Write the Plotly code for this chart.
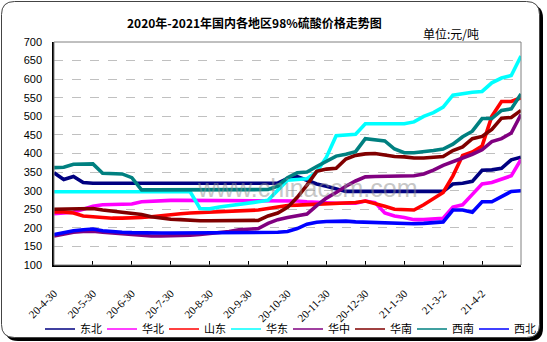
import plotly.graph_objects as go

# ---------------- data ----------------
idx = list(range(49))
tick_pos = [0, 4, 8, 12, 16, 20, 24, 28, 32, 36, 40, 44]
tick_labels = ["20-4-30", "20-5-30", "20-6-30", "20-7-30", "20-8-30", "20-9-30",
               "20-10-30", "20-11-30", "20-12-30", "21-1-30", "21-3-2", "21-4-2"]

dongbei = [348, 330, 338, 322, 320, 320, 320, 320, 320, 320, 320, 320, 320, 320, 320, 320,
           320, 320, 320, 320, 320, 320, 320, 320, 333, 338, 328, 318, 312, 305, 298, 298,
           298, 298, 298, 298, 298, 298, 298, 298, 298, 318, 320, 325, 355, 356, 360, 383, 390]
huabei = [238, 240, 242, 250, 258, 262, 262, 263, 264, 270, 272, 273, 274, 274, 274, 274,
          274, 274, 274, 274, 274, 274, 274, 274, 274, 272, 270, 268, 268, 266, 266, 266,
          272, 268, 240, 232, 228, 222, 222, 223, 226, 256, 262, 290, 318, 322, 330, 340, 384]
shandong = [243, 243, 240, 232, 230, 227, 226, 226, 226, 228, 230, 233, 237, 238, 240, 241,
            242, 243, 244, 245, 246, 248, 252, 256, 260, 261, 262, 262, 264, 265, 265, 268,
            272, 266, 258, 250, 248, 248, 262, 278, 295, 340, 395, 404, 420, 500, 540, 540, 550]
huadong = [297, 297, 297, 297, 297, 297, 297, 297, 297, 297, 297, 297, 297, 297, 297, 252,
           251, 256, 259, 263, 267, 270, 274, 300, 328, 330, 332, 350, 390, 448, 450, 452,
           480, 480, 480, 480, 480, 485, 500, 510, 525, 557, 562, 565, 567, 590, 603, 610, 662]
huazhong = [178, 184, 188, 190, 191, 188, 186, 184, 182, 179, 178, 178, 178, 178, 180, 182,
            184, 186, 190, 195, 197, 198, 212, 222, 228, 232, 237, 260, 280, 295, 312, 326,
            337, 338, 338, 338, 339, 340, 345, 355, 368, 377, 388, 398, 410, 432, 440, 455, 505]
huanan = [250, 250, 252, 252, 252, 248, 245, 243, 240, 236, 230, 226, 223, 222, 220, 219,
          219, 219, 219, 219, 219, 220, 232, 240, 255, 282, 315, 352, 358, 360, 385, 395,
          399, 400, 396, 392, 391, 388, 388, 390, 392, 408, 418, 440, 446, 465, 495, 497, 516]
xinan = [362, 363, 371, 372, 372, 347, 347, 345, 335, 302, 302, 302, 302, 302, 302, 302,
         302, 302, 302, 302, 302, 302, 303, 312, 335, 348, 350, 365, 380, 393, 398, 405,
         440, 436, 434, 412, 402, 402, 404, 408, 412, 425, 445, 460, 494, 494, 516, 520, 560]
xibei = [182, 188, 192, 195, 197, 192, 189, 188, 187, 186, 186, 186, 186, 186, 186, 186,
         186, 186, 186, 186, 186, 186, 186, 188, 190, 198, 210, 215, 217, 218, 218, 216,
         215, 215, 213, 211, 211, 211, 212, 214, 216, 248, 248, 242, 270, 270, 285, 298, 300]

series_names = ["东北", "华北", "山东", "华东", "华中", "华南", "西南", "西北"]
series_values = [dongbei, huabei, shandong, huadong, huazhong, huanan, xinan, xibei]
series_colors = ["#000080", "#FF00FF", "#FF0000", "#00FFFF", "#800080", "#800000", "#008080", "#0000FF"]

title_text = "2020年-2021年国内各地区98%硫酸价格走势图"
unit_text = "单位:元/吨"
watermark_text = "www.chinaccm.com"

# ---------------- geometry helpers ----------------
W, H = 547, 342
L, R, T, B = 54, 521, 42, 265
def px(p):
    return (p - L) / (R - L)
def py(p):
    return (B - p) / (B - T)

def rrect(x0, y0, x1, y1, r):
    rx, ry = r / (R - L), r / (B - T)
    X0, X1, Y0, Y1 = px(x0), px(x1), py(y0), py(y1)  # Y0 top, Y1 bottom
    return (f"M{X0+rx},{Y0} L{X1-rx},{Y0} Q{X1},{Y0} {X1},{Y0-ry} "
            f"L{X1},{Y1+ry} Q{X1},{Y1} {X1-rx},{Y1} L{X0+rx},{Y1} "
            f"Q{X0},{Y1} {X0},{Y1+ry} L{X0},{Y0-ry} Q{X0},{Y0} {X0+rx},{Y0} Z")

fig = go.Figure()

for name, vals, col in zip(series_names, series_values, series_colors):
    fig.add_trace(go.Scatter(x=idx, y=vals, mode="lines", name=name,
                             line=dict(color=col, width=3.6), showlegend=False))
for name, col in zip(series_names, series_colors):
    fig.add_trace(go.Scatter(x=[None], y=[None], mode="lines", name=name,
                             line=dict(color=col, width=1.5), showlegend=True))

shapes = [
    dict(type="path", xref="paper", yref="paper", path=rrect(5, 5, 543, 341, 13),
         fillcolor="black", line=dict(width=0), layer="below"),
    dict(type="path", xref="paper", yref="paper", path=rrect(1.5, 1.5, 539.5, 337.5, 13),
         fillcolor="white", line=dict(color="#444444", width=1), layer="below"),
    dict(type="rect", xref="paper", yref="paper", x0=0, x1=1, y0=0, y1=1,
         line=dict(color="#808080", width=1), layer="above"),
]

fig.update_layout(
    width=W, height=H,
    margin=dict(l=L, r=W - R, t=T, b=H - B, pad=0, autoexpand=False),
    paper_bgcolor="white", plot_bgcolor="rgba(0,0,0,0)",
    shapes=shapes,
    showlegend=True,
    legend=dict(orientation="h", x=px(40), xanchor="left", y=py(329), yanchor="middle",
                entrywidth=17, entrywidthmode="pixels", itemwidth=30,
                font=dict(family="Noto Sans CJK SC", size=11, color="black"),
                bgcolor="rgba(0,0,0,0)", tracegroupgap=0),
    annotations=[
        dict(text=f"<b>{title_text}</b>", x=px(254), y=py(23), xref="paper", yref="paper",
             showarrow=False, xanchor="center", yanchor="middle",
             font=dict(family="Noto Sans CJK SC", size=12, color="black")),
        dict(text=unit_text, x=px(481), y=py(33), xref="paper", yref="paper",
             showarrow=False, xanchor="right", yanchor="middle",
             font=dict(family="Noto Sans CJK SC", size=12, color="black")),
        dict(text=watermark_text, x=px(307), y=py(188), xref="paper", yref="paper",
             showarrow=False, xanchor="center", yanchor="middle", opacity=0.5,
             font=dict(family="Liberation Sans", size=25, color="#909090")),
    ],
)

fig.update_xaxes(range=[0, 48], tickmode="array", tickvals=tick_pos, ticktext=tick_labels,
                 tickangle=-45, ticks="inside", ticklen=4, tickcolor="black", tickwidth=1,
                 showline=True, linecolor="black", linewidth=1.5, showgrid=False, zeroline=False,
                 ticklabelstandoff=16, automargin=False,
                 tickfont=dict(family="Liberation Serif", size=11, color="black"))
fig.update_yaxes(range=[100, 700], dtick=50, tick0=100, ticks="", showline=True,
                 linecolor="black", linewidth=1.5, showgrid=True, gridcolor="#c0c0c0",
                 gridwidth=1, griddash="dash", zeroline=False, ticklabelstandoff=8,
                 automargin=False,
                 tickfont=dict(family="Liberation Sans", size=11, color="black"))

fig.write_html("out.html")
